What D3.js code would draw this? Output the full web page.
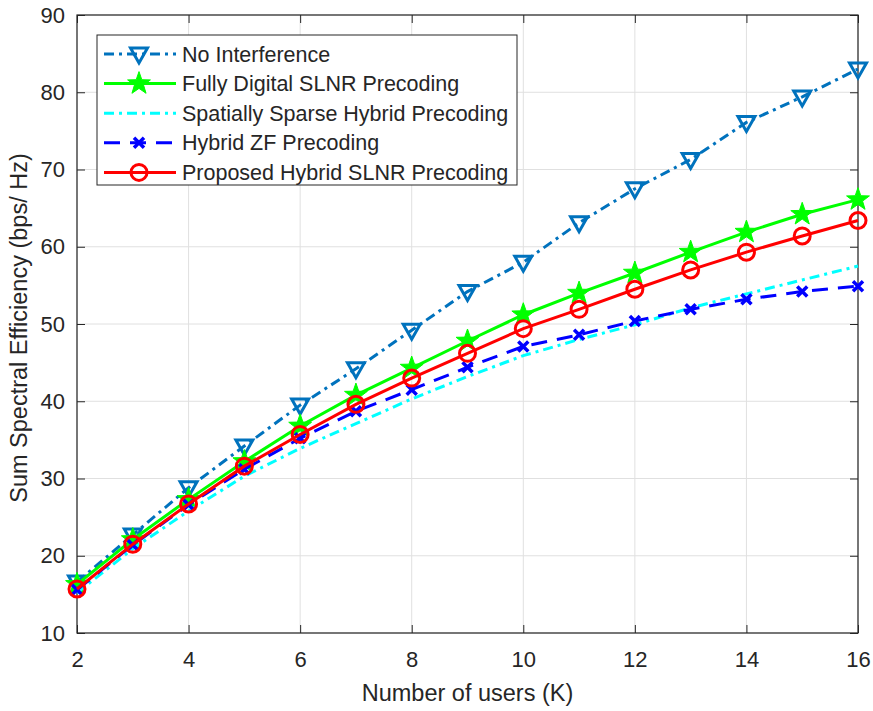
<!DOCTYPE html>
<html>
<head>
  <script src="https://d3js.org/d3.v7.min.js"></script>
  <style>
    body { margin: 0; background: #fff; }
    text { font-family: "Liberation Sans", Arial, sans-serif; fill: #262626; }
  </style>
</head>
<body>
<svg width="873" height="711"></svg>
<script>
  // data
  var users = [2, 3, 4, 5, 6, 7, 8, 9, 10, 11, 12, 13, 14, 15, 16];
  var noInterference = [16.6, 22.7, 28.8, 34.2, 39.5, 44.2, 49.2, 54.2, 58.0, 63.1, 67.5, 71.3, 76.1, 79.4, 83.0];
  var fullyDigital   = [16.3, 22.1, 27.3, 32.2, 36.8, 40.8, 44.3, 47.8, 51.2, 54.0, 56.6, 59.3, 61.9, 64.2, 66.1];
  var spatialSparse  = [15.2, 20.9, 25.8, 30.3, 33.9, 37.1, 40.3, 43.2, 45.9, 48.0, 49.9, 52.1, 53.9, 55.7, 57.5];
  var hybridZF       = [15.6, 21.4, 26.6, 31.2, 35.2, 38.7, 41.5, 44.4, 47.1, 48.6, 50.4, 51.9, 53.2, 54.2, 54.9];
  var proposed       = [15.7, 21.5, 26.7, 31.6, 35.7, 39.6, 43.0, 46.2, 49.4, 51.9, 54.5, 57.0, 59.3, 61.4, 63.4];

  var xTicks = [2, 4, 6, 8, 10, 12, 14, 16];
  var yTicks = [10, 20, 30, 40, 50, 60, 70, 80, 90];

  var series = [
    {name: "No Interference", values: noInterference, color: "#0072BD", dash: "10,5,3,5", marker: "triangle"},
    {name: "Fully Digital SLNR Precoding", values: fullyDigital, color: "#00FF00", dash: null, marker: "star"},
    {name: "Spatially Sparse Hybrid Precoding", values: spatialSparse, color: "#00FFFF", dash: "10,5,3,5", marker: null},
    {name: "Hybrid ZF Precoding", values: hybridZF, color: "#0000FF", dash: "16,10", marker: "x"},
    {name: "Proposed Hybrid SLNR Precoding", values: proposed, color: "#FF0000", dash: null, marker: "circle"}
  ];

  var margin = {top: 15, right: 15, bottom: 78, left: 77},
      width = 873 - margin.left - margin.right,
      height = 711 - margin.top - margin.bottom;

  var svg = d3.select("svg")
    .append("g")
      .attr("transform", "translate(" + margin.left + "," + margin.top + ")");

  var x = d3.scaleLinear().domain([2, 16]).range([0, width]);
  var y = d3.scaleLinear().domain([10, 90]).range([height, 0]);

  // grid
  svg.append("g").selectAll("line").data(xTicks).enter().append("line")
    .attr("x1", d => x(d)).attr("x2", d => x(d))
    .attr("y1", 0).attr("y2", height)
    .attr("stroke", "#e0e0e0").attr("stroke-width", 1);
  svg.append("g").selectAll("line").data(yTicks).enter().append("line")
    .attr("y1", d => y(d)).attr("y2", d => y(d))
    .attr("x1", 0).attr("x2", width)
    .attr("stroke", "#e0e0e0").attr("stroke-width", 1);

  // axes (ticks pointing inward, box on)
  var axisColor = "#262626";
  function styleAxis(g) {
    g.select(".domain").remove();
    g.selectAll(".tick line").attr("stroke", axisColor);
    g.selectAll(".tick text").style("font-size", "22px").attr("fill", axisColor);
  }
  svg.append("g").attr("transform", "translate(0," + height + ")")
    .call(d3.axisBottom(x).tickValues(xTicks).tickSize(-8).tickPadding(18))
    .call(styleAxis);
  svg.append("g")
    .call(d3.axisTop(x).tickValues(xTicks).tickSize(-8).tickFormat(""))
    .call(styleAxis);
  svg.append("g")
    .call(d3.axisLeft(y).tickValues(yTicks).tickSize(-8).tickPadding(12))
    .call(styleAxis);
  svg.append("g").attr("transform", "translate(" + width + ",0)")
    .call(d3.axisRight(y).tickValues(yTicks).tickSize(-8).tickFormat(""))
    .call(styleAxis);
  svg.append("rect")
    .attr("width", width).attr("height", height)
    .attr("fill", "none").attr("stroke", axisColor).attr("stroke-width", 1.2);

  // markers
  function starPath(r) {
    var pts = [];
    for (var i = 0; i < 10; i++) {
      var rr = i % 2 === 0 ? r : r * 0.4;
      var a = -Math.PI / 2 + i * Math.PI / 5;
      pts.push([rr * Math.cos(a), rr * Math.sin(a)]);
    }
    return "M" + pts.map(p => p[0].toFixed(2) + "," + p[1].toFixed(2)).join("L") + "Z";
  }
  function drawMarker(g, type, color) {
    if (type === "triangle") {
      g.append("path").attr("d", "M-8.5,-6L8.5,-6L0,9Z")
        .attr("fill", "none").attr("stroke", color).attr("stroke-width", 3).attr("stroke-linejoin", "miter");
    } else if (type === "star") {
      g.append("path").attr("d", starPath(12))
        .attr("fill", color).attr("stroke", color).attr("stroke-width", 1);
    } else if (type === "x") {
      g.append("path").attr("d", "M-5,-5L5,5M-5,5L5,-5")
        .attr("stroke", color).attr("stroke-width", 3.5);
    } else if (type === "circle") {
      g.append("circle").attr("r", 8)
        .attr("fill", "none").attr("stroke", color).attr("stroke-width", 3);
    }
  }

  var line = d3.line()
    .x((d, i) => x(users[i]))
    .y(d => y(d));

  series.forEach(function(s) {
    svg.append("path")
      .datum(s.values)
      .attr("d", line)
      .attr("fill", "none")
      .attr("stroke", s.color)
      .attr("stroke-width", 3)
      .attr("stroke-dasharray", s.dash);
    if (s.marker) {
      s.values.forEach(function(v, i) {
        var g = svg.append("g").attr("transform", "translate(" + x(users[i]) + "," + y(v) + ")");
        drawMarker(g, s.marker, s.color);
      });
    }
  });

  // legend
  var legend = svg.append("g").attr("transform", "translate(20,20)");
  legend.append("rect")
    .attr("width", 420).attr("height", 150)
    .attr("fill", "#fff").attr("stroke", axisColor).attr("stroke-width", 1);
  series.forEach(function(s, i) {
    var row = legend.append("g").attr("transform", "translate(0," + (19 + i * 29.6) + ")");
    row.append("line")
      .attr("x1", 7).attr("x2", 79)
      .attr("stroke", s.color).attr("stroke-width", 3)
      .attr("stroke-dasharray", s.dash);
    if (s.marker) {
      var g = row.append("g").attr("transform", "translate(42,0)");
      drawMarker(g, s.marker, s.color);
    }
    row.append("text")
      .attr("x", 85).attr("y", 0).attr("dy", "0.35em")
      .style("font-size", "21.5px")
      .text(s.name);
  });

  // axis labels
  svg.append("text")
    .attr("x", width / 2).attr("y", height + 68)
    .attr("text-anchor", "middle")
    .style("font-size", "23.5px")
    .text("Number of users (K)");
  svg.append("text")
    .attr("transform", "rotate(-90)")
    .attr("x", -height / 2 - 4).attr("y", -50)
    .attr("text-anchor", "middle")
    .style("font-size", "23.5px")
    .text("Sum Spectral Efficiency (bps/ Hz)");
</script>
</body>
</html>
